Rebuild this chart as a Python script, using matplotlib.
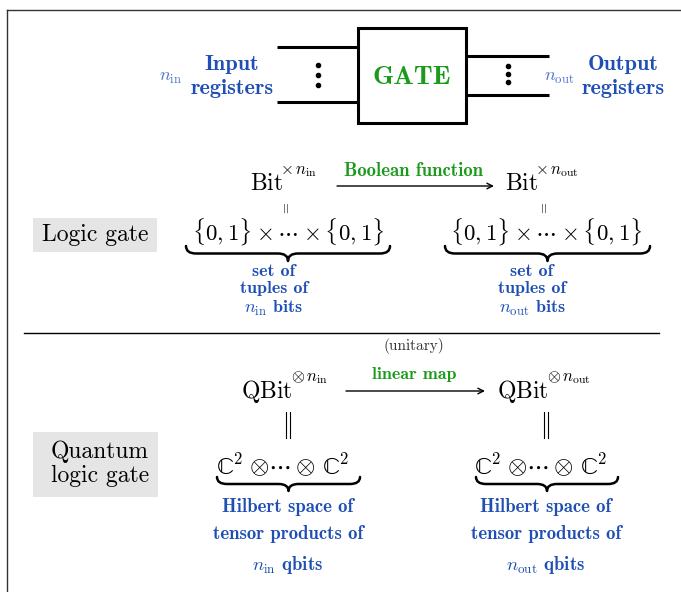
import matplotlib
matplotlib.use("Agg")
import matplotlib.pyplot as plt
from matplotlib.path import Path
from matplotlib.patches import PathPatch, Rectangle

plt.rcParams['mathtext.fontset'] = 'cm'
plt.rcParams['axes.formatter.use_mathtext'] = True

# ---- text content ----
gate_label = "GATE"
input_label = ["Input", "registers"]
output_label = ["Output", "registers"]
n_in_label = r"$n_{\mathrm{in}}$"
n_out_label = r"$n_{\mathrm{out}}$"

row_labels = ["Logic gate", "Quantum\nlogic gate"]
map_labels = ["Boolean function", "linear map"]
unitary_label = "(unitary)"
logic_base = r"$\mathrm{Bit}$"
logic_sups = [r"$\times\, n_{\mathrm{in}}$", r"$\times\, n_{\mathrm{out}}$"]
logic_sets = [r"$\{0,1\}\times\cdots\times\{0,1\}$"] * 2
logic_desc = ["set of\ntuples of\n" + r"$n_{\mathrm{in}}$ bits",
              "set of\ntuples of\n" + r"$n_{\mathrm{out}}$ bits"]
quantum_base = r"$\mathrm{QBit}$"
quantum_sups = [r"$\otimes\, n_{\mathrm{in}}$", r"$\otimes\, n_{\mathrm{out}}$"]
complex_sym = "ℂ"
complex_exp = "2"
tensor_mid = r"$\otimes\cdots\otimes$"
quantum_desc = ["Hilbert space of\ntensor products of\n" + r"$n_{\mathrm{in}}$ qbits",
                "Hilbert space of\ntensor products of\n" + r"$n_{\mathrm{out}}$ qbits"]

BLUE = "#1f4fb4"
LBLUE = "#4a72c8"
GREEN = "#1c9a1c"
GRAYBOX = "#e5e5e5"

W, H = 681, 592
fig = plt.figure(figsize=(W / 100, H / 100), dpi=100)
ax = fig.add_axes([0, 0, 1, 1])
ax.set_xlim(0, W)
ax.set_ylim(H, 0)
ax.axis('off')

# frame
ax.plot([7, 7], [10, H], color="#333333", lw=1)
ax.plot([7, W], [10, 10], color="#333333", lw=1)

# ---- gate diagram ----
ax.add_patch(Rectangle((358, 28), 108, 95, fill=False, lw=2.2, ec='black'))
for y in (47, 102):
    ax.plot([277, 358], [y, y], color='black', lw=2.2, solid_capstyle='butt')
for y in (56, 95):
    ax.plot([466, 549], [y, y], color='black', lw=2.2, solid_capstyle='butt')
ax.plot([318, 318, 318], [65, 75, 85], 'o', color='black', ms=3)
ax.plot([508, 508, 508], [66, 74, 82], 'o', color='black', ms=3)
ax.text(412, 78, gate_label, family='cmb10', fontsize=19.5, color=GREEN,
        ha='center', va='center')
ax.text(232, 64, input_label[0], family='cmb10', fontsize=16, color=BLUE, ha='center', va='center')
ax.text(232, 88, input_label[1], family='cmb10', fontsize=16, color=BLUE, ha='center', va='center')
ax.text(171, 77, n_in_label, fontsize=13, color=LBLUE, ha='center', va='center')
ax.text(623, 64, output_label[0], family='cmb10', fontsize=16, color=BLUE, ha='center', va='center')
ax.text(623, 88, output_label[1], family='cmb10', fontsize=16, color=BLUE, ha='center', va='center')
ax.text(559, 77, n_out_label, fontsize=13, color=LBLUE, ha='center', va='center')


def brace(x0, x1, y0, h, lw=1.8):
    xm = (x0 + x1) / 2
    q = min(10, (x1 - x0) / 8)
    ym = y0 + h / 2
    verts = [(x0, y0), (x0, ym), (x0 + q, ym),
             (xm - q, ym),
             (xm, ym), (xm, y0 + h),
             (xm, ym), (xm + q, ym),
             (x1 - q, ym),
             (x1, ym), (x1, y0)]
    codes = [Path.MOVETO, Path.CURVE3, Path.CURVE3,
             Path.LINETO,
             Path.CURVE3, Path.CURVE3,
             Path.CURVE3, Path.CURVE3,
             Path.LINETO,
             Path.CURVE3, Path.CURVE3]
    ax.add_patch(PathPatch(Path(verts, codes), fill=False, lw=lw, ec='black',
                           capstyle='round', joinstyle='round'))


cols = [288, 546]

# ---- logic gate row ----
ax.add_patch(Rectangle((33, 218), 124, 34, color=GRAYBOX, lw=0))
ax.text(95, 235, row_labels[0], family='cmr10', fontsize=17, ha='center', va='center')
bit_x = [250, 505]
for i, cx in enumerate(cols):
    ax.text(bit_x[i], 190, logic_base, fontsize=17, ha='left', va='baseline')
    ax.text(bit_x[i] + 30, 174, logic_sups[i], fontsize=12, ha='left', va='baseline')
    ax.text(cx - 1, 208, "=", fontsize=10, rotation=90, ha='center', va='center', family='cmr10')
    ax.text(cx, 240, logic_sets[i], fontsize=16.5, ha='center', va='baseline')
    ax.text(cx - 14, 291, logic_desc[i], family='cmb10', fontsize=13, color=BLUE,
            ha='center', va='center', linespacing=1.22)
brace(186, 390, 246, 15)
brace(445, 650, 246, 15)
ax.annotate("", xy=(494, 186), xytext=(337, 186),
            arrowprops=dict(arrowstyle='->', lw=1, color='black', shrinkA=0, shrinkB=0))
ax.text(414, 171, map_labels[0], family='cmb10', fontsize=13.5, color=GREEN, ha='center', va='center')

# separator
ax.plot([24, 659], [333, 333], color='black', lw=1)
ax.text(414, 346, unitary_label, family='cmr10', fontsize=11, color='#333333', ha='center', va='center')

# ---- quantum row ----
ax.add_patch(Rectangle((33, 432), 125, 65, color=GRAYBOX, lw=0))
ax.text(100, 464, row_labels[1], family='cmr10', fontsize=17, ha='center', va='center',
        multialignment='right', linespacing=1.1)
qbit_x = [241, 497]
for i, cx in enumerate(cols):
    ax.text(qbit_x[i], 398, quantum_base, fontsize=17, ha='left', va='baseline')
    ax.text(qbit_x[i] + 50, 381, quantum_sups[i], fontsize=12, ha='left', va='baseline')
    ax.plot([cx - 2, cx - 2], [412, 438], color='black', lw=0.8)
    ax.plot([cx + 2, cx + 2], [412, 438], color='black', lw=0.8)
    # C^2 (x) ... (x) C^2
    for xl in (cx - 71, cx + 35):
        ax.text(xl, 474, complex_sym, family='STIXGeneral', fontsize=17.5, ha='left', va='baseline')
        ax.text(xl + 16, 464.5, complex_exp, family='cmr10', fontsize=12, ha='left', va='baseline')
    ax.text(cx - 6, 474, tensor_mid, fontsize=18, ha='center', va='baseline')
    ax.text(cx, 537, quantum_desc[i], family='cmb10', fontsize=13.5, color=BLUE,
            ha='center', va='center', linespacing=1.68)
brace(217, 360, 477, 14)
brace(476, 618, 477, 14)
ax.annotate("", xy=(485, 391), xytext=(346, 391),
            arrowprops=dict(arrowstyle='->', lw=1, color='black', shrinkA=0, shrinkB=0))
ax.text(414, 374, map_labels[1], family='cmb10', fontsize=13, color=GREEN, ha='center', va='center')

fig.savefig("out.png", dpi=100)
